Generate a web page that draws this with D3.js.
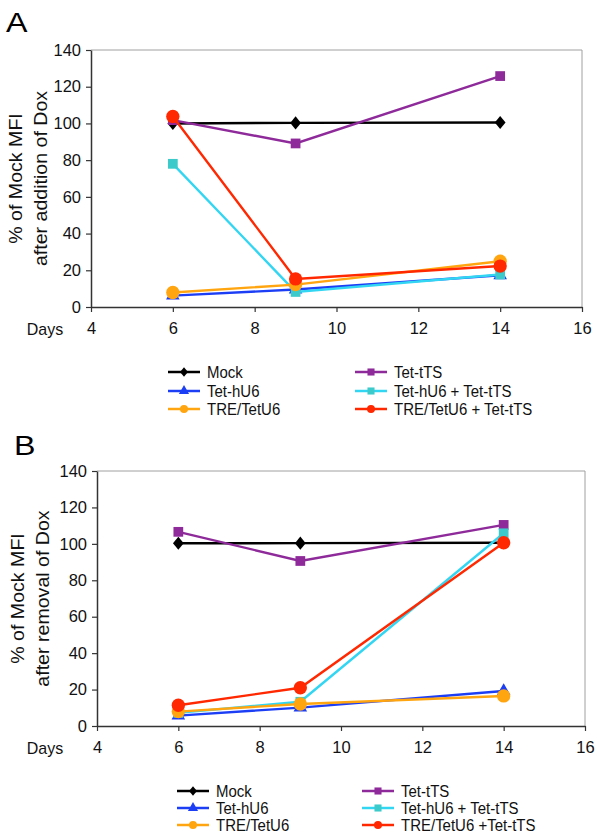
<!DOCTYPE html>
<html><head><meta charset="utf-8">
<script src="https://cdn.jsdelivr.net/npm/d3@7"></script>
<style>body{margin:0;background:#fff}svg{display:block;font-family:"Liberation Sans",Arial,sans-serif}</style>
</head><body><svg id="c" width="600" height="839"></svg>
<script>
const days = [6, 9, 14];
const seriesNames = ["Mock","Tet-tTS","Tet-hU6","Tet-hU6 + Tet-tTS","TRE/TetU6","TRE/TetU6 + Tet-tTS"];
const seriesNamesB = ["Mock","Tet-tTS","Tet-hU6","Tet-hU6 + Tet-tTS","TRE/TetU6","TRE/TetU6 +Tet-tTS"];
const xTicks = [4, 6, 8, 10, 12, 14, 16];
const yTicks = [0, 20, 40, 60, 80, 100, 120, 140];
// Panel A: after addition of Dox
const mockA = [100, 100.3, 100.5];
const tetTSA = [101.8, 89.1, 125.8];
const tetHU6A = [6.2, 9.5, 17.3];
const tetHU6TSA = [78, 8.2, 17.7];
const treA = [7.9, 12.2, 24.9];
const treTSA = [103.8, 15.3, 22.3];
// Panel B: after removal of Dox
const mockB = [100.3, 100.4, 100.6];
const tetTSB = [106.6, 90.6, 110.4];
const tetHU6B = [5.7, 10.1, 19.2];
const tetHU6TSB = [7.2, 13.3, 105.8];
const treB = [7.9, 12.1, 16.5];
const treTSB = [11.4, 21, 100.6];

const diamond = {draw(ctx, size){ const h = Math.sqrt(size)/1.6, w = h*0.82;
  ctx.moveTo(0,-h); ctx.lineTo(w,0); ctx.lineTo(0,h); ctx.lineTo(-w,0); ctx.closePath(); }};

const styles = [
  {line:"#000000", fill:"#000000", sym:diamond, size:110, lsize:60},
  {line:"#8e2a9a", fill:"#8e2a9a", sym:d3.symbolSquare, size:95, lsize:50},
  {line:"#1c3ef5", fill:"#1c3ef5", sym:d3.symbolTriangle, size:80, lsize:45},
  {line:"#33d6f2", fill:"#3ccaca", sym:d3.symbolSquare, size:95, lsize:50},
  {line:"#ffa510", fill:"#ffa510", sym:d3.symbolCircle, size:140, lsize:50},
  {line:"#ff2800", fill:"#ff2800", sym:d3.symbolCircle, size:140, lsize:50}
];

const svg = d3.select("#c");

function panel(cfg){
  const g = svg.append("g");
  const x = d3.scaleLinear().domain([4,16]).range([cfg.x0, cfg.x1]);
  const y = d3.scaleLinear().domain([0,140]).range([cfg.y0, cfg.y1]);
  g.append("path").attr("d",`M${cfg.x0},${cfg.y1}H${cfg.x1}V${cfg.y0}`)
    .attr("fill","none").attr("stroke","#a0a0a0").attr("stroke-width",1);
  const xa = g.append("g").attr("transform",`translate(0,${cfg.y0})`)
    .call(d3.axisBottom(x).tickValues(xTicks).tickSize(5).tickPadding(10).tickSizeOuter(0));
  const ya = g.append("g").attr("transform",`translate(${cfg.x0},0)`)
    .call(d3.axisLeft(y).tickValues(yTicks).tickSize(5).tickPadding(5).tickSizeOuter(0));
  [xa, ya].forEach(a=>{
    a.select(".domain").attr("stroke","#333").attr("stroke-width",1.5);
    a.selectAll(".tick line").attr("stroke","#333").attr("stroke-width",1.2);
    a.selectAll("text").attr("font-size",16.5).attr("fill","#111").attr("font-family","Liberation Sans, Arial, sans-serif");
  });
  g.append("text").attr("transform",`translate(45,${cfg.y0+28}) scale(1,1.06)`).attr("text-anchor","middle")
    .attr("font-size",16).attr("fill","#111").text("Days");
  const cy = (cfg.y0+cfg.y1)/2;
  cfg.title.forEach((t,i)=>{
    g.append("text").attr("transform",`translate(${cfg.tx[i]},${cy}) scale(1,1.12) rotate(-90)`)
      .attr("text-anchor","middle").attr("font-size",17.5).attr("fill","#111").text(t);
  });
  g.append("text").attr("transform",`translate(${cfg.lx},${cfg.ly}) scale(1.15,1)`)
    .attr("font-size",28).attr("fill","#000").text(cfg.label);
  const line = d3.line().x((d,i)=>x(days[i])).y(d=>y(d));
  cfg.data.forEach((vals,k)=>{
    const s = styles[k];
    g.append("path").attr("d",line(vals)).attr("fill","none").attr("stroke",s.line).attr("stroke-width",2.4);
    vals.forEach((v,i)=>{
      g.append("path").attr("d",d3.symbol(s.sym, s.size)())
        .attr("transform",`translate(${x(days[i])},${y(v)})`).attr("fill",s.fill);
    });
  });
  cfg.names.forEach((n,k)=>{
    const col = k%2, row = Math.floor(k/2);
    const lx = cfg.legX[col], ly = cfg.legY[row];
    const s = styles[k];
    g.append("line").attr("x1",lx).attr("x2",lx+32).attr("y1",ly).attr("y2",ly)
      .attr("stroke",s.line).attr("stroke-width",2.5);
    g.append("path").attr("d",d3.symbol(s.sym, s.lsize)()).attr("transform",`translate(${lx+16},${ly})`).attr("fill",s.fill);
    g.append("text").attr("transform",`translate(${lx+39},${ly+5.8}) scale(1,1.1)`)
      .attr("font-size",15).attr("fill","#111").text(n);
  });
}

panel({x0:91, x1:582, y0:307, y1:50, label:"A", lx:6, ly:32,
  title:["% of Mock MFI","after addition of Dox"], tx:[22,47],
  data:[mockA, tetTSA, tetHU6A, tetHU6TSA, treA, treTSA], names:seriesNames,
  legX:[168,355], legY:[372,391,409]});
panel({x0:97, x1:585, y0:726, y1:471, label:"B", lx:14, ly:455,
  title:["% of Mock MFI","after removal of Dox"], tx:[24,49],
  data:[mockB, tetTSB, tetHU6B, tetHU6TSB, treB, treTSB], names:seriesNamesB,
  legX:[177,362], legY:[791,808,825]});
</script></body></html>
